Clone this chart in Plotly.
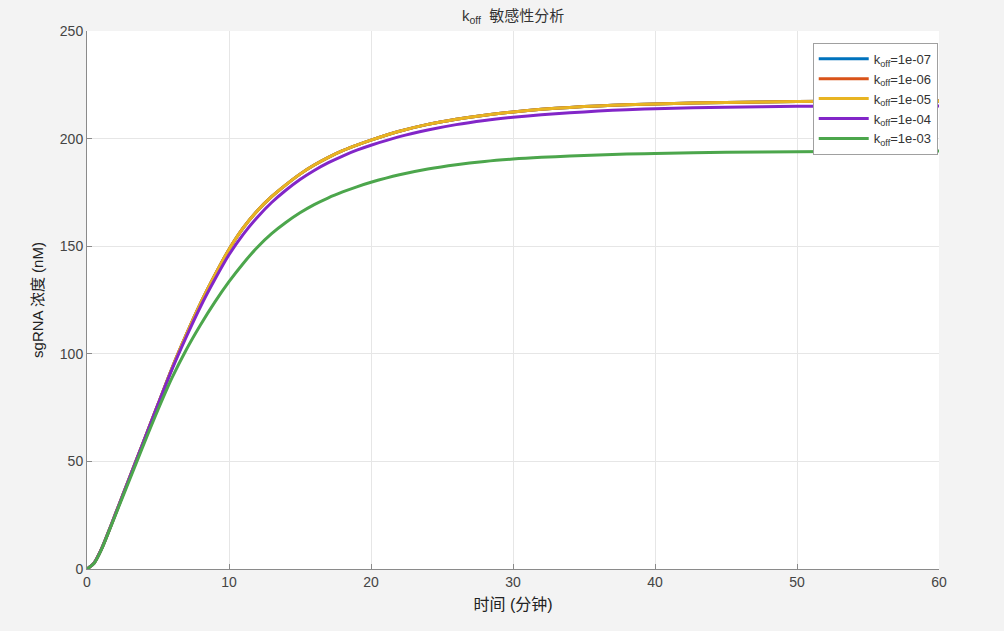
import plotly.graph_objects as go

t = [0, 0.5, 1, 1.5, 2, 2.5, 3, 4, 5, 6, 7, 8, 9, 10, 11, 12, 13, 14, 15, 16, 17, 18, 19, 20,
     22, 24, 26, 28, 30, 32, 34, 36, 38, 40, 45, 50, 55, 60]

y_1e07 = [0, 2.8, 9, 17, 25.5, 34, 42.5, 59.5, 76.5, 93.5, 109, 123.5, 136.5, 148.5, 158.5, 166.5, 173,
          178.5, 183.5, 187.7, 191.3, 194.4, 197, 199.3, 203.4, 206.6, 209, 210.9, 212.4, 213.6, 214.5,
          215.2, 215.7, 216.1, 216.8, 217.2, 217.4, 217.5]
y_1e06 = [0, 2.8, 9, 17, 25.5, 34, 42.5, 59.5, 76.5, 93.5, 109, 123.5, 136.5, 148.5, 158.5, 166.5, 173,
          178.5, 183.5, 187.7, 191.3, 194.4, 197, 199.3, 203.4, 206.6, 209, 210.9, 212.4, 213.6, 214.5,
          215.2, 215.7, 216.1, 216.8, 217.2, 217.4, 217.5]
y_1e05 = [0, 2.8, 9, 17, 25.5, 34, 42.5, 59.5, 76.5, 93.5, 109, 123.5, 136.5, 148.5, 158.5, 166.5, 173,
          178.5, 183.5, 187.7, 191.3, 194.4, 197, 199.3, 203.4, 206.6, 209, 210.9, 212.4, 213.6, 214.5,
          215.2, 215.7, 216.1, 216.8, 217.2, 217.4, 217.5]
y_1e04 = [0, 2.8, 9, 17, 25.5, 34, 42.5, 59.5, 76.5, 93, 108, 122, 134.5, 146, 155.5, 163.5, 170.3,
          176, 181, 185.2, 188.8, 191.9, 194.6, 196.9, 200.9, 204, 206.5, 208.4, 209.9, 211.1, 212,
          212.8, 213.4, 213.9, 214.6, 215, 215.1, 215.2]
y_1e03 = [0, 2.7, 8.8, 16.8, 25, 33.3, 41.5, 58, 74, 89, 102, 113.5, 124, 133.5, 142, 149.5, 155.8,
          161, 165.5, 169.3, 172.5, 175.2, 177.6, 179.7, 183.2, 185.9, 187.9, 189.4, 190.5, 191.3, 191.9,
          192.4, 192.8, 193.1, 193.6, 193.9, 194.1, 194.2]

labels = ["k<sub>off</sub>=1e-07", "k<sub>off</sub>=1e-06", "k<sub>off</sub>=1e-05",
          "k<sub>off</sub>=1e-04", "k<sub>off</sub>=1e-03"]
series = [y_1e07, y_1e06, y_1e05, y_1e04, y_1e03]
colors = ["#0072BD", "#D95319", "#E8B422", "#8226C8", "#4CA64C"]

x_ticks = [0, 10, 20, 30, 40, 50, 60]
y_ticks = [0, 50, 100, 150, 200, 250]

FONT = "Liberation Sans, Arial, Noto Sans CJK SC, sans-serif"
BG = "#f3f3f3"

fig = go.Figure()
for ys, name, c in zip(series, labels, colors):
    fig.add_trace(go.Scatter(x=t, y=ys, mode="lines", name=name,
                             line=dict(color=c, width=3, shape="spline", smoothing=0.8)))

axis_common = dict(showgrid=True, gridcolor="#e6e6e6", gridwidth=1, zeroline=False,
                   showline=True, linecolor="#8a8a8a", linewidth=1, mirror=False,
                   ticks="inside", ticklen=5, tickcolor="#8a8a8a",
                   tickfont=dict(family=FONT, size=14, color="#444444"))

fig.update_layout(
    width=1004, height=631,
    paper_bgcolor=BG, plot_bgcolor="#ffffff",
    margin=dict(l=87, r=65, t=31, b=62),
    title=dict(text="k<sub>off</sub>  敏感性分析", x=0.511, xanchor="center", y=0.975, yanchor="middle",
               font=dict(family=FONT, size=15, color="#333333")),
    xaxis=dict(range=[0, 60], tickvals=x_ticks,
               title=dict(text="时间 (分钟)", standoff=10,
                          font=dict(family=FONT, size=16, color="#222222")),
               **axis_common),
    yaxis=dict(range=[0, 250], tickvals=y_ticks,
               title=dict(text="sgRNA 浓度 (nM)", standoff=12,
                          font=dict(family=FONT, size=15, color="#222222")),
               **axis_common),
    legend=dict(x=0.9985, xanchor="right", y=0.978, yanchor="top",
                bgcolor="#ffffff", bordercolor="#a0a0a0", borderwidth=1,
                font=dict(family=FONT, size=13, color="#333333"),
                tracegroupgap=0, itemwidth=50),
    showlegend=True,
)

fig.write_html("out.html", config={"displayModeBar": False},
               post_script="document.body.style.margin='0';document.body.style.background='%s';"
                           "document.body.style.overflow='hidden';" % BG)
